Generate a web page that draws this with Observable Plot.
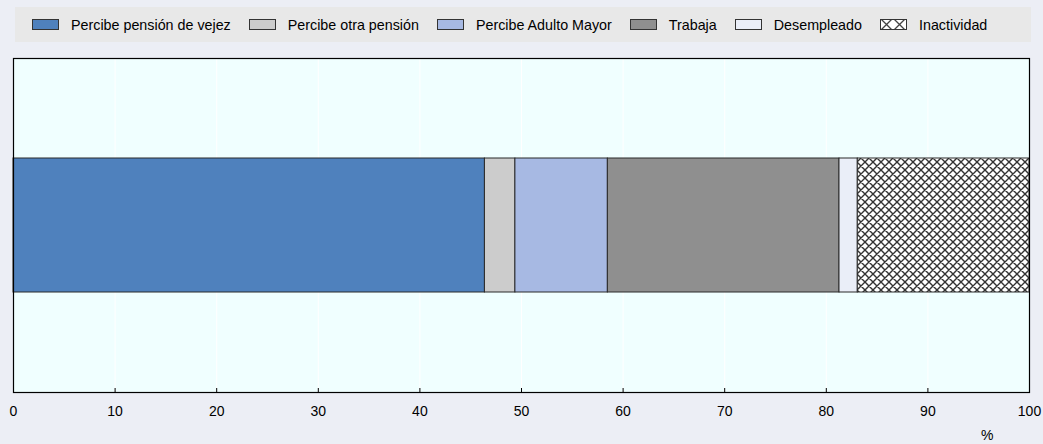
<!DOCTYPE html>
<html>
<head>
<meta charset="utf-8">
<script src="https://cdn.jsdelivr.net/npm/d3@7"></script>
<script src="https://cdn.jsdelivr.net/npm/@observablehq/plot@0.6"></script>
<style>
  body { margin: 0; background: #eceef5; font-family: 'Liberation Sans', Arimo, Arial, Helvetica, sans-serif; }
  #legend { margin: 7px 0 0 15px; width: 1016px; height: 35px; background: #e8e8e8; display: flex; align-items: center; padding-left: 17px; box-sizing: border-box; font-size: 14.3px; color: #000; }
  .item { display: flex; align-items: center; margin-right: 18px; }
  .sw { width: 27px; height: 11px; border: 1px solid #333; box-sizing: border-box; margin-right: 12px; }
  #chart { margin-top: 8px; }
  #chart svg text { font-family: 'Liberation Sans', Arimo, Arial, Helvetica, sans-serif; }
</style>
</head>
<body>
<div id="legend"></div>
<div id="chart"></div>
<script>
const group = ["Total"];
const categories = ["Percibe pensión de vejez", "Percibe otra pensión", "Percibe Adulto Mayor", "Trabaja", "Desempleado", "Inactividad"];
const values = [46.4, 3.0, 9.1, 22.8, 1.8, 16.9];
const colors = ["#4f81bd", "#cccccc", "#a7b9e3", "#8f8f8f", "#eaeef8", "url(#hatch)"];
const xTicks = [0, 10, 20, 30, 40, 50, 60, 70, 80, 90, 100];
const gridTicks = [10, 20, 30, 40, 50, 60, 70, 80, 90];
const unitLabel = "%";

const data = categories.map((c, i) => ({group: group[0], cat: c, value: values[i]}));

// Legend
const legend = document.getElementById("legend");
categories.forEach((c, i) => {
  const item = document.createElement("div");
  item.className = "item";
  const sw = document.createElement("div");
  sw.className = "sw";
  if (colors[i].startsWith("url")) {
    sw.style.border = "none";
    sw.innerHTML = `<svg width="27" height="11" style="display:block"><defs><pattern id="hatchLeg" patternUnits="userSpaceOnUse" width="13" height="13" x="0" y="-1"><rect width="13" height="13" fill="white"/><path d="M0,0L13,13M13,0L0,13" stroke="#444" stroke-width="1.3"/></pattern></defs><rect x="0.5" y="0.5" width="26" height="10" fill="url(#hatchLeg)" stroke="#333"/></svg>`;
  } else {
    sw.style.background = colors[i];
  }
  const label = document.createElement("span");
  label.textContent = c;
  item.appendChild(sw);
  item.appendChild(label);
  legend.appendChild(item);
});

const chart = Plot.plot({
  width: 1043,
  height: 394,
  marginLeft: 13,
  marginRight: 14,
  marginTop: 8,
  marginBottom: 52,
  style: {background: "#eceef5", fontFamily: "'Liberation Sans', Arimo, Arial, sans-serif", fontSize: "14px", color: "#000"},
  x: {domain: [0, 100], axis: null},
  y: {type: "band", domain: group, paddingInner: 0, paddingOuter: 0.746, axis: null},
  color: {domain: categories, range: colors},
  marks: [
    Plot.frame({fill: "#f0ffff", stroke: null}),
    Plot.ruleX(gridTicks, {stroke: "white", strokeWidth: 1}),
    Plot.barX(data, Plot.stackX({x: "value", y: "group", fill: "cat", order: categories, stroke: "#2a2a2a", strokeWidth: 1})),
    Plot.ruleX(xTicks, {stroke: "#000", insetTop: 330}),
    Plot.frame({stroke: "#000", strokeWidth: 1.2}),
    Plot.axisX({ticks: xTicks, tickSize: 0, tickPadding: 14, fontSize: 14, label: null, tickFormat: d => String(d)}),
    Plot.text([unitLabel], {frameAnchor: "bottom-right", dx: -36, dy: 47, fontSize: 14, text: d => d})
  ]
});

const defs = d3.select(chart).insert("defs", ":first-child");
const pat = defs.append("pattern").attr("id", "hatch").attr("patternUnits", "userSpaceOnUse").attr("width", 8).attr("height", 8).attr("x", 857).attr("y", 0);
pat.append("rect").attr("width", 8).attr("height", 8).attr("fill", "white");
pat.append("path").attr("d", "M0,0L8,8M8,0L0,8M-1,7L1,9M7,-1L9,1M-1,1L1,-1M7,9L9,7").attr("stroke", "#333").attr("stroke-width", 1.4);

document.getElementById("chart").appendChild(chart);
</script>
</body>
</html>
